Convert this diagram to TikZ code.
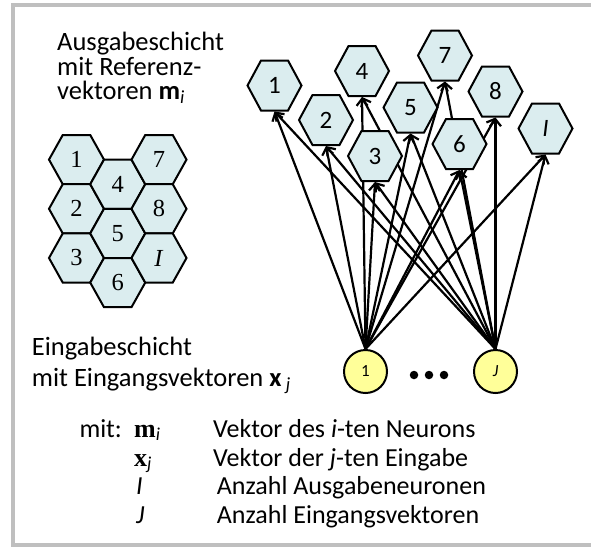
\documentclass[tikz,border=0pt]{standalone}
\usepackage{fontspec}
\setmainfont{Carlito}
\newfontfamily\serifnum{Liberation Serif}
\usetikzlibrary{arrows.meta}
\definecolor{hexfill}{RGB}{219,237,239}
\definecolor{inyellow}{RGB}{255,255,153}
\definecolor{framegray}{RGB}{191,191,191}
\newcommand{\bigtxt}{\fontsize{26.5}{30}\selectfont}
\newcommand{\bottxt}{\fontsize{26}{30}\selectfont}
\begin{document}
\begin{tikzpicture}[x=1pt,y=-1pt,
  hexline/.style={draw=black, fill=hexfill, line width=2pt, line join=miter},
  hexR/.style={minimum width=62pt, minimum height=58pt, inner sep=0pt, outer sep=0pt,
    font=\fontsize{25}{25}\selectfont,
    path picture={\path[hexline] ([xshift=-27pt]path picture bounding box.center)
      -- ++(13.5pt,25pt) -- ++(27pt,0pt) -- ++(13.5pt,-25pt)
      -- ++(-13.5pt,-25pt) -- ++(-27pt,0pt) -- cycle;}},
  hexL/.style={minimum width=62pt, minimum height=56pt, inner sep=0pt, outer sep=0pt,
    font=\serifnum\fontsize{24.5}{24.5}\selectfont,
    path picture={\path[hexline] ([xshift=-27.5pt]path picture bounding box.center)
      -- ++(13.75pt,24.6pt) -- ++(27.5pt,0pt) -- ++(13.75pt,-24.6pt)
      -- ++(-13.75pt,-24.6pt) -- ++(-27.5pt,0pt) -- cycle;}},
  innode/.style={circle, draw=black, fill=inyellow, line width=2pt, minimum size=43pt,
    inner sep=0pt, font=\fontsize{17}{17}\selectfont},
  dotn/.style={circle, fill=black, minimum size=8.5pt, inner sep=0pt},
  arr/.style={line width=2.2pt, -{Straight Barb[length=7pt,width=11pt]}},
  txt/.style={inner sep=0pt, anchor=base west, font=\bigtxt},
  btxt/.style={inner sep=0pt, anchor=base west, font=\bottxt}
]
\useasboundingbox (0,0) rectangle (591,547);
% frame
\draw[framegray, line width=4pt] (620,5.3) -- (13,5.3) -- (13,545) -- (620,545);

% left honeycomb
\node[hexL] (l1) at (76.5,159.6) {1};
\node[hexL] (l2) at (76.5,208.8) {2};
\node[hexL] (l3) at (76.5,258) {3};
\node[hexL] (l4) at (117.75,184.2) {4};
\node[hexL] (l5) at (117.75,233.4) {5};
\node[hexL] (l6) at (117.75,282.6) {6};
\node[hexL] (l7) at (159,159.6) {7};
\node[hexL] (l8) at (159,208.8) {8};
\node[hexL] (lI) at (159,258) {\textit{I}};

% input nodes
\node[innode] (in1) at (365.5,371.5) {1};
\node[innode] (inJ) at (495.5,371.5) {\textit{J}};
\node[dotn] (d1) at (414,375) {};
\node[dotn] (d2) at (429,375) {};
\node[dotn] (d3) at (444,375) {};

% output node positions (coordinates for arrows)
\coordinate (c1) at (274.5,85.5);
\coordinate (c2) at (326,120);
\coordinate (c3) at (375,156);
\coordinate (c4) at (362,71);
\coordinate (c5) at (410.5,107.5);
\coordinate (c6) at (459.5,144);
\coordinate (c7) at (445,55.5);
\coordinate (c8) at (495.5,91.5);
\coordinate (cI) at (545.5,128.5);

% arrows (drawn beneath the hexagons)
\foreach \c in {c1,c2,c3,c4,c5,c6,c7,c8,cI}{
  \draw[arr] (in1.north) -- ([yshift=-26pt]\c);
  \draw[arr] (inJ.north) -- ([yshift=-26pt]\c);
}

% output hexagons
\node[hexR] (r1) at (c1) {1};
\node[hexR] (r2) at (c2) {2};
\node[hexR] (r4) at (c4) {4};
\node[hexR] (r7) at (c7) {7};
\node[hexR] (r5) at (c5) {5};
\node[hexR] (r8) at (c8) {8};
\node[hexR] (r3) at (c3) {3};
\node[hexR] (r6) at (c6) {6};
\node[hexR] (rI) at (cI) {\textit{I}};

% texts
\node[txt] (t1) at (57,50) {Ausgabeschicht};
\node[txt] (t2) at (57,75) {mit Referenz-};
\node[txt] (t3) at (57,99.3) {vektoren \textbf{m}\textsubscript{\textit{i}}};
\node[txt] (e1) at (31.7,355) {Eingabeschicht};
\node[txt] (e2) at (31.7,386.7) {mit Eingangsvektoren \textbf{x}\,\textsubscript{\textit{j}}};

\node[btxt] (b0) at (79.3,437) {mit:};
\node[btxt] (b1s) at (134,437) {{\serifnum\bfseries m}\textsubscript{\textit{i}}};
\node[btxt] (b1) at (213,437) {Vektor des \textit{i}-ten Neurons};
\node[btxt] (b2s) at (134,466) {{\serifnum\bfseries x}\textsubscript{\textit{j}}};
\node[btxt] (b2) at (213,466) {Vektor der \textit{j}-ten Eingabe};
\node[btxt] (b3s) at (136,494.5) {\textit{I}};
\node[btxt] (b3) at (216.7,494.5) {Anzahl Ausgabeneuronen};
\node[btxt] (b4s) at (136,523) {\textit{J}};
\node[btxt] (b4) at (216.7,523) {Anzahl Eingangsvektoren};
\end{tikzpicture}
\end{document}
